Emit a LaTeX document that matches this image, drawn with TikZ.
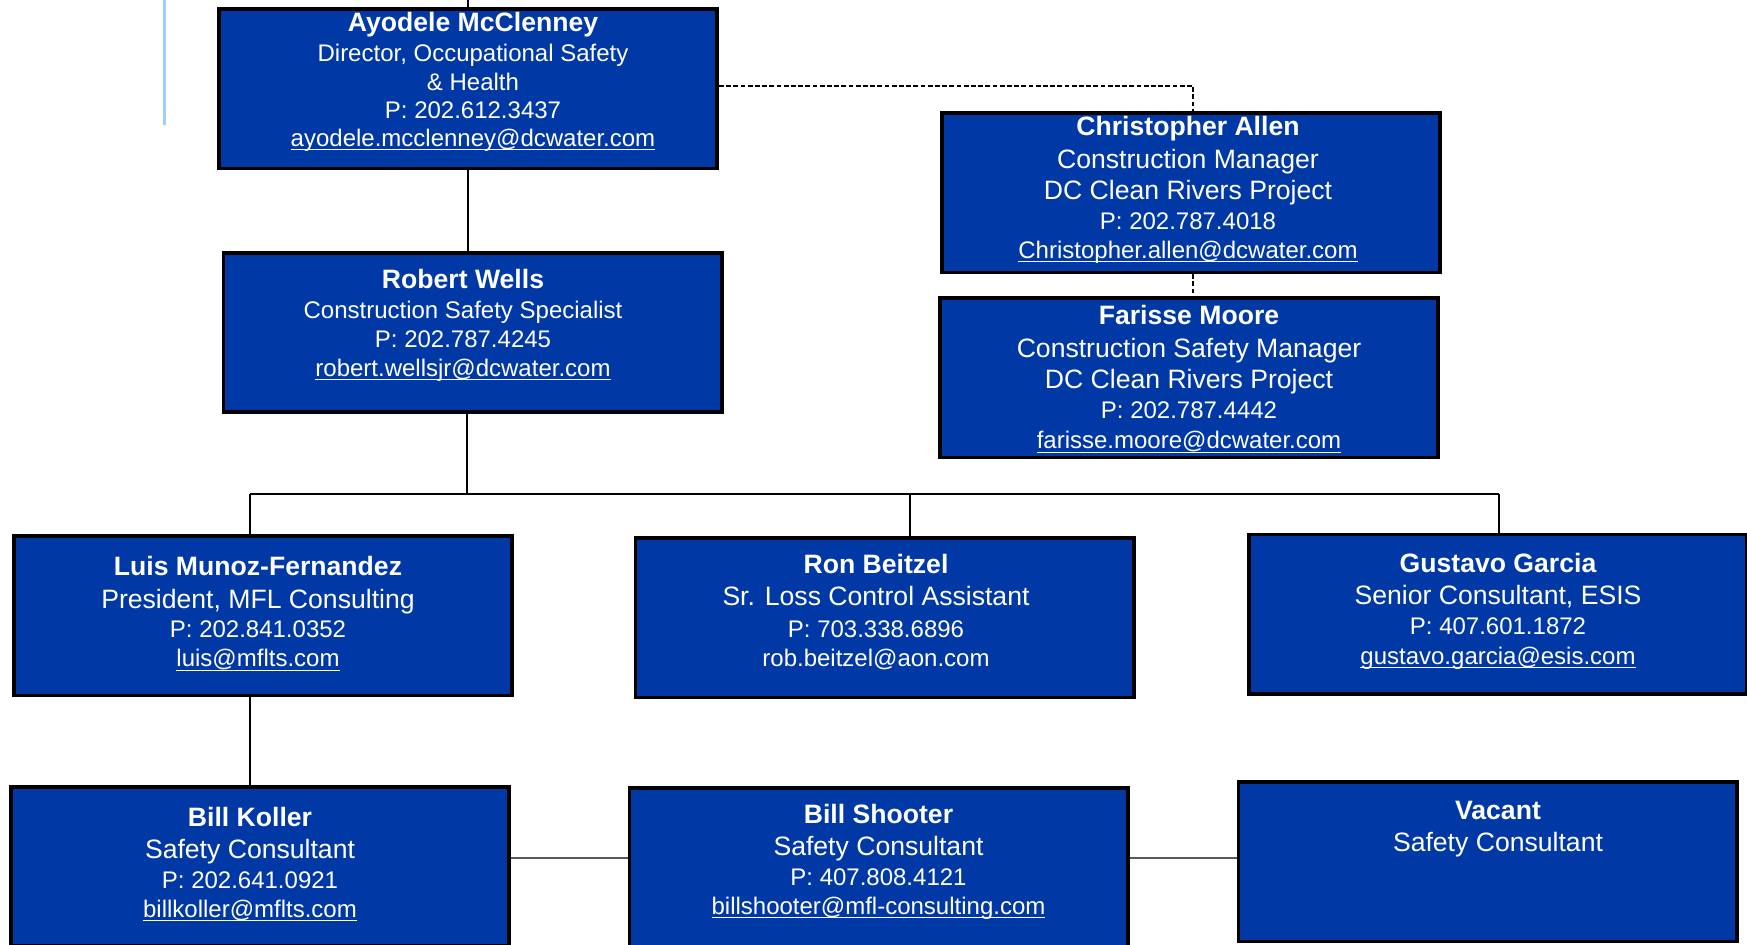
\documentclass[tikz,border=0pt]{standalone}
\usepackage{fontspec}
\setmainfont{Liberation Sans}
\definecolor{boxblue}{RGB}{0,57,166}
\definecolor{paleblue}{RGB}{160,205,250}
\newcommand{\maillink}[1]{\begingroup\setbox0\hbox{#1}\rlap{\rule[-1.9pt]{\wd0}{0.6pt}}\box0\endgroup}
\tikzset{
  orgbox/.style={draw=black, line width=1.8pt, fill=boxblue, minimum width=249.2pt, minimum height=79.7pt, inner sep=0pt},
  nm/.style={anchor=base, text=white, inner sep=0pt, font=\fontsize{13.3}{15}\selectfont\bfseries},
  tl/.style={anchor=base, text=white, inner sep=0pt, font=\fontsize{13.3}{15}\selectfont},
  sm/.style={anchor=base, text=white, inner sep=0pt, font=\fontsize{12}{14}\selectfont},
  link/.style={line width=1pt, draw=black},
  glink/.style={line width=1pt, draw=black!65},
  dlink/.style={line width=0.6pt, draw=black, dash pattern=on 2.4pt off 1.2pt},
}
\begin{document}
\begin{tikzpicture}[x=0.5pt, y=-0.5pt]
\useasboundingbox (0,0) rectangle (1747,945);
\clip (0,0) rectangle (1747,945);
\fill[white] (0,0) rectangle (1747,945);

% decorative pale line
\coordinate (pb1) at (164,0);
\coordinate (pb2) at (164,125);
\draw[paleblue, line width=1.5pt] (pb1) -- (pb2);

% boxes
\node[orgbox] (ayodele) at (468,88.8) {};
\node[orgbox] (robert) at (472.5,332.5) {};
\node[orgbox] (chris) at (1191,192.8) {};
\node[orgbox] (farisse) at (1189,378) {};
\node[orgbox] (luis) at (263,616) {};
\node[orgbox] (ron) at (884.5,618) {};
\node[orgbox] (gustavo) at (1498,614.3) {};
\node[orgbox] (koller) at (260,866.5) {};
\node[orgbox] (shooter) at (878.5,868) {};
\node[orgbox] (vacant) at (1487.5,862) {};

% connectors
\coordinate (topin) at (468,0);
\coordinate (busL) at (250,494);
\coordinate (busM) at (910,494);
\coordinate (busR) at (1499,494);
\coordinate (busC) at (467,494);
\coordinate (hl) at (0,858);
\coordinate (dc) at (1193,86);

\draw[link] (topin) -- (ayodele.north);
\draw[link] (ayodele.south) -- (ayodele.south |- robert.north);
\draw[link] (busC |- robert.south) -- (busC);
\draw[link] (busL) -- (busR);
\draw[link] (busL) -- (busL |- luis.north);
\draw[link] (busM) -- (busM |- ron.north);
\draw[link] (busR) -- (busR |- gustavo.north);
\draw[link] (busL |- luis.south) -- (busL |- koller.north);
\draw[glink] (koller.east |- hl) -- (shooter.west |- hl);
\draw[glink] (shooter.east |- hl) -- (vacant.west |- hl);
\draw[dlink] (ayodele.east |- dc) -- (dc) -- (dc |- chris.north);
\draw[dlink] (dc |- chris.south) -- (dc |- farisse.north);

% Ayodele
\node[nm] (ayodele-n) at (473,32) {Ayodele McClenney};
\node[sm] (ayodele-1) at (473,62) {Director, Occupational Safety};
\node[sm] (ayodele-2) at (473,90.5) {\& Health};
\node[sm] (ayodele-3) at (473,118.5) {P: 202.612.3437};
\node[sm] (ayodele-4) at (473,146.5) {\maillink{ayodele.mcclenney@dcwater.com}};

% Robert
\node[nm] (robert-n) at (463,288.7) {Robert Wells};
\node[sm] (robert-1) at (463,318.7) {Construction Safety Specialist};
\node[sm] (robert-2) at (463,347.7) {P: 202.787.4245};
\node[sm] (robert-3) at (463,376.7) {\maillink{robert.wellsjr@dcwater.com}};

% Christopher
\node[nm] (chris-n) at (1188,136) {Christopher Allen};
\node[tl] (chris-1) at (1188,168.3) {Construction Manager};
\node[tl] (chris-2) at (1188,199.3) {DC Clean Rivers Project};
\node[sm] (chris-3) at (1188,230) {P: 202.787.4018};
\node[sm] (chris-4) at (1188,258.3) {\maillink{Christopher.allen@dcwater.com}};

% Farisse
\node[nm] (farisse-n) at (1189,325) {Farisse Moore};
\node[tl] (farisse-1) at (1189,357.5) {Construction Safety Manager};
\node[tl] (farisse-2) at (1189,389) {DC Clean Rivers Project};
\node[sm] (farisse-3) at (1189,419) {P: 202.787.4442};
\node[sm] (farisse-4) at (1189,449) {\maillink{farisse.moore@dcwater.com}};

% Luis
\node[nm] (luis-n) at (258,576) {Luis Munoz-Fernandez};
\node[tl] (luis-1) at (258,608.3) {President, MFL Consulting};
\node[sm] (luis-2) at (258,637.5) {P: 202.841.0352};
\node[sm] (luis-3) at (258,667) {\maillink{luis@mflts.com}};

% Ron
\node[nm] (ron-n) at (876,574) {Ron Beitzel};
\node[tl] (ron-1) at (876,606) {Sr. Loss Control Assistant};
\node[sm] (ron-2) at (876,637.5) {P: 703.338.6896};
\node[sm] (ron-3) at (876,666.5) {rob.beitzel@aon.com};

% Gustavo
\node[nm] (gustavo-n) at (1498,572.7) {Gustavo Garcia};
\node[tl] (gustavo-1) at (1498,605) {Senior Consultant, ESIS};
\node[sm] (gustavo-2) at (1498,635) {P: 407.601.1872};
\node[sm] (gustavo-3) at (1498,664.3) {\maillink{gustavo.garcia@esis.com}};

% Bill Koller
\node[nm] (koller-n) at (250,826.7) {Bill Koller};
\node[tl] (koller-1) at (250,859) {Safety Consultant};
\node[sm] (koller-2) at (250,888.3) {P: 202.641.0921};
\node[sm] (koller-3) at (250,917.3) {\maillink{billkoller@mflts.com}};

% Bill Shooter
\node[nm] (shooter-n) at (878.5,823.3) {Bill Shooter};
\node[tl] (shooter-1) at (878.5,855.7) {Safety Consultant};
\node[sm] (shooter-2) at (878.5,886) {P: 407.808.4121};
\node[sm] (shooter-3) at (878.5,914.3) {\maillink{billshooter@mfl-consulting.com}};

% Vacant
\node[nm] (vacant-n) at (1498,820) {Vacant};
\node[tl] (vacant-1) at (1498,851.7) {Safety Consultant};
\end{tikzpicture}
\end{document}
